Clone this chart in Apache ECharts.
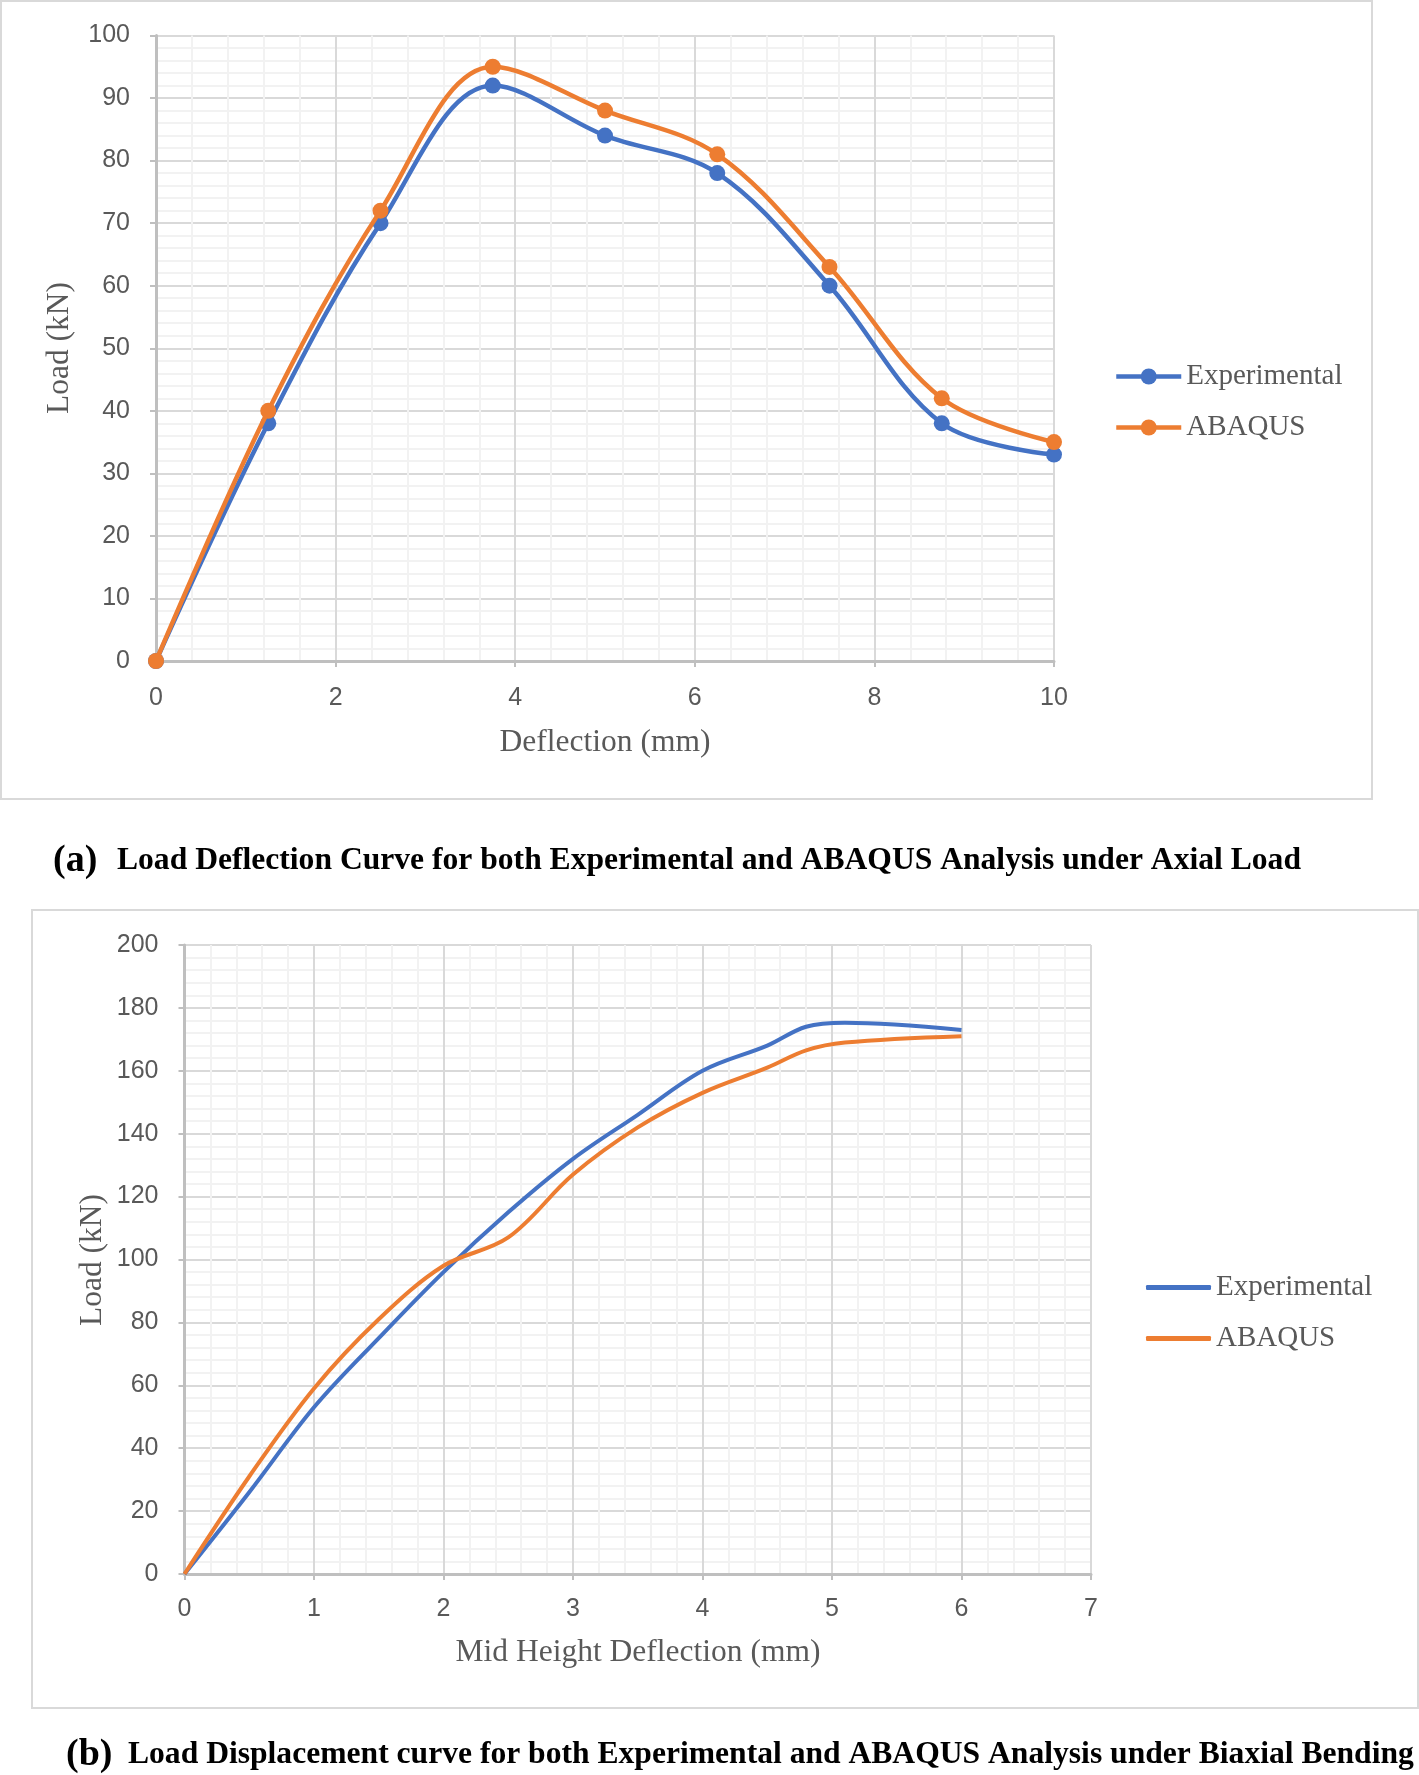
<!DOCTYPE html>
<html><head><meta charset="utf-8">
<script src="https://cdn.jsdelivr.net/npm/echarts@6/dist/echarts.min.js"></script>
<style>
html,body{margin:0;padding:0;background:#fff;}
#ca{position:absolute;left:0;top:0;width:1419px;height:890px;}
#cb{position:absolute;left:0;top:890px;width:1419px;height:885px;}
</style>
</head><body>
<div id="ca"></div><div id="cb"></div>
<script>
// ---------- Data: chart (a) Axial load ----------
const deflA = [0, 1.25, 2.5, 3.75, 5, 6.25, 7.5, 8.75, 10];
const expA  = [0, 38, 70, 92, 84, 78, 60, 38, 33];
const abqA  = [0, 40, 72, 95, 88, 81, 63, 42, 35];
const xAxisA = {min: 0, max: 10, interval: 2};
const yAxisA = {min: 0, max: 100, interval: 10};

// ---------- Data: chart (b) Biaxial bending ----------
const deflB = [0, 0.5, 1, 1.5, 2, 2.5, 3, 3.5, 4, 4.5, 4.8, 5.1, 6];
const expB  = [0, 26, 53, 75, 96, 115, 132, 146, 160, 168, 174, 175.3, 173];
const abqB  = [0, 31, 59, 81, 98, 107, 127, 142, 153, 161, 166.5, 169, 171];
const xAxisB = {min: 0, max: 7, interval: 1};
const yAxisB = {min: 0, max: 200, interval: 20};

const seriesNames = ['Experimental', 'ABAQUS'];
const colors = ['#4472C4', '#ED7D31'];
const captionA = ['(a)', 'Load Deflection Curve for both Experimental and ABAQUS Analysis under Axial Load'];
const captionB = ['(b)', 'Load Displacement curve for both Experimental and ABAQUS Analysis under Biaxial Bending'];

const TEXT = '#595959', GRID = '#d9d9d9', MINOR = '#f2f2f2', AXIS = '#bfbfbf';

function valueAxis(cfg, margin) {
  return {
    type: 'value', min: cfg.min, max: cfg.max, interval: cfg.interval,
    axisLine: {show: true, onZero: false, lineStyle: {color: AXIS, width: 3}},
    axisTick: {show: true, length: 6, lineStyle: {color: AXIS, width: 2}},
    axisLabel: {margin: margin, color: TEXT, fontFamily: 'Liberation Sans', fontSize: 25},
    splitLine: {show: true, lineStyle: {color: GRID, width: 2}},
    minorTick: {show: false, splitNumber: 5},
    minorSplitLine: {show: true, lineStyle: {color: MINOR, width: 2}}
  };
}
function pairs(xs, ys) { return xs.map((x, i) => [x, ys[i]]); }

function caption(cap, xParen, xText, y) {
  return [
    {type: 'text', x: xParen, y: y, style: {text: cap[0], font: 'bold 38px "Liberation Serif"', fill: '#000', textAlign: 'left', textVerticalAlign: 'middle'}},
    {type: 'text', x: xText, y: y, style: {text: cap[1], font: 'bold 31.6px "Liberation Serif"', fill: '#000', textAlign: 'left', textVerticalAlign: 'middle'}}
  ];
}
function axisTitle(text, x, y, rotate) {
  return {type: 'text', x: x, y: y, rotation: rotate ? Math.PI / 2 : 0,
    style: {text: text, font: '31.5px "Liberation Serif"', fill: TEXT, textAlign: 'center', textVerticalAlign: 'middle'}};
}

// ---------- Chart (a) ----------
const chartA = echarts.init(document.getElementById('ca'), null, {renderer: 'canvas'});
chartA.setOption({
  animation: false,
  backgroundColor: '#fff',
  grid: {left: 156, top: 35.5, width: 898, height: 625.5, containLabel: false},
  xAxis: valueAxis(xAxisA, 25),
  yAxis: valueAxis(yAxisA, 26),
  legend: {
    orient: 'vertical', left: 1109, top: 357, itemWidth: 65, itemHeight: 20, itemGap: 22,
    data: seriesNames,
    lineStyle: {width: 4.5},
    textStyle: {fontFamily: 'Liberation Serif', fontSize: 29, color: TEXT}
  },
  series: [expA, abqA].map((vals, i) => ({
    type: 'line', name: seriesNames[i], data: pairs(deflA, vals),
    smooth: 0.35, symbol: 'circle', symbolSize: 16, showSymbol: true,
    lineStyle: {width: 4.5, color: colors[i]}, itemStyle: {color: colors[i]},
    z: 3 + i
  })),
  graphic: [
    {type: 'rect', shape: {x: 1, y: 1, width: 1371, height: 798}, style: {fill: 'none', stroke: '#d9d9d9', lineWidth: 2}, z: -1},
    axisTitle('Load (kN)', 60, 348, true),
    axisTitle('Deflection (mm)', 605, 743, false),
    ...caption(captionA, 53, 117, 861)
  ]
});

// ---------- Chart (b) ----------
const chartB = echarts.init(document.getElementById('cb'), null, {renderer: 'canvas'});
chartB.setOption({
  animation: false,
  backgroundColor: '#fff',
  grid: {left: 184.5, top: 55, width: 906.5, height: 629, containLabel: false},
  xAxis: valueAxis(xAxisB, 23),
  yAxis: valueAxis(yAxisB, 26),
  legend: {
    orient: 'vertical', left: 1141, top: 378, itemWidth: 65, itemHeight: 5, itemGap: 22,
    icon: 'roundRect',
    data: seriesNames,
    textStyle: {fontFamily: 'Liberation Serif', fontSize: 29, color: TEXT}
  },
  series: [expB, abqB].map((vals, i) => ({
    type: 'line', name: seriesNames[i], data: pairs(deflB, vals),
    smooth: 0.35, symbol: 'none', showSymbol: false,
    lineStyle: {width: 4, color: colors[i]}, itemStyle: {color: colors[i]},
    z: 3 + i
  })),
  graphic: [
    {type: 'rect', shape: {x: 32, y: 20, width: 1386, height: 798}, style: {fill: 'none', stroke: '#d9d9d9', lineWidth: 2}, z: -1},
    axisTitle('Load (kN)', 93, 370, true),
    axisTitle('Mid Height Deflection (mm)', 638, 763, false),
    ...caption(captionB, 66, 128, 865)
  ]
});
</script>
</body></html>
